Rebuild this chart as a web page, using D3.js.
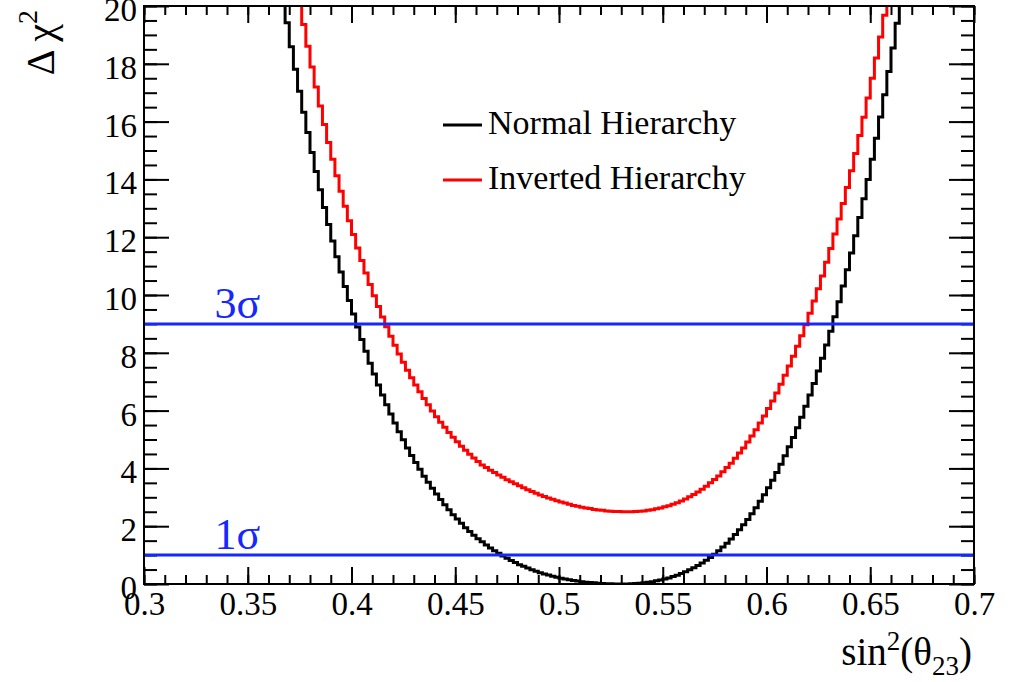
<!DOCTYPE html>
<html>
<head>
<meta charset="utf-8">
<script src="https://cdn.jsdelivr.net/npm/d3@7"></script>
<style>
  body { margin: 0; background: #fff; }
  svg { display: block; }
  text { font-family: "Liberation Serif", "Times New Roman", serif; }
</style>
</head>
<body>
<div id="chart"></div>
<script>
// x axis: sin^2(theta23), bins of 0.002
var binWidth = 0.002;
var xTicks = [0.3, 0.35, 0.4, 0.45, 0.5, 0.55, 0.6, 0.65, 0.7];
var xTickLabels = ["0.3", "0.35", "0.4", "0.45", "0.5", "0.55", "0.6", "0.65", "0.7"];
var yTicks = [0, 2, 4, 6, 8, 10, 12, 14, 16, 18, 20];
var yTickLabels = ["0", "2", "4", "6", "8", "10", "12", "14", "16", "18", "20"];
var sigmaLevels = [9, 1];
var sigmaLabels = ["3\u03c3", "1\u03c3"];
var seriesNames = ["Normal Hierarchy", "Inverted Hierarchy"];

// Normal hierarchy, first bin starts at 0.364
var nhStart = 0.364;
var nhValues = [
  21.13, 20.27, 19.42, 18.59, 17.81, 17.05, 16.32, 15.62, 14.93, 14.27,
  13.64, 13.03, 12.44, 11.87, 11.32, 10.80, 10.29, 9.81, 9.34, 8.89,
  8.46, 8.05, 7.64, 7.27, 6.89, 6.54, 6.20, 5.88, 5.57, 5.27,
  4.99, 4.71, 4.45, 4.20, 3.97, 3.73, 3.52, 3.31, 3.11, 2.92,
  2.74, 2.57, 2.40, 2.25, 2.10, 1.95, 1.82, 1.69, 1.57, 1.46,
  1.35, 1.25, 1.15, 1.06, 0.97, 0.89, 0.81, 0.74, 0.67, 0.61,
  0.55, 0.49, 0.44, 0.39, 0.35, 0.31, 0.27, 0.23, 0.20, 0.17,
  0.15, 0.12, 0.10, 0.08, 0.06, 0.05, 0.04, 0.03, 0.02, 0.01,
  0.01, 0.00, 0.00,
  0.00, 0.00, 0.01, 0.02, 0.03, 0.04, 0.06, 0.08, 0.11, 0.14,
  0.17, 0.21, 0.26, 0.30, 0.36, 0.42, 0.49, 0.56, 0.64, 0.73,
  0.82, 0.92, 1.03, 1.15, 1.28, 1.41, 1.56, 1.71, 1.88, 2.05,
  2.23, 2.43, 2.64, 2.86, 3.09, 3.33, 3.59, 3.86, 4.14, 4.44,
  4.75, 5.07, 5.41, 5.77, 6.15, 6.54, 6.94, 7.37, 7.81, 8.27,
  8.75, 9.25, 9.77, 10.31, 10.87, 11.45, 12.05, 12.68, 13.33, 14.00,
  14.70, 15.42, 16.16, 16.93, 17.73, 18.55, 19.40, 20.28, 21.18
];

// Inverted hierarchy, first bin starts at 0.372
var ihStart = 0.372;
var ihValues = [
  20.94, 20.13, 19.36, 18.61, 17.89, 17.20, 16.54, 15.90, 15.28, 14.70,
  14.13, 13.59, 13.07, 12.57, 12.09, 11.63, 11.19, 10.76, 10.36, 9.97,
  9.60, 9.24, 8.90, 8.57, 8.26, 7.96, 7.67, 7.40, 7.14, 6.89,
  6.65, 6.42, 6.20, 5.99, 5.79, 5.60, 5.42, 5.24, 5.08, 4.92,
  4.77, 4.63, 4.49, 4.36, 4.24, 4.12, 4.03, 3.94, 3.86, 3.77,
  3.69, 3.61, 3.54, 3.47, 3.40, 3.33, 3.26, 3.20, 3.14, 3.08,
  3.03, 2.98, 2.93, 2.88, 2.84, 2.80, 2.76, 2.72, 2.69, 2.66,
  2.63, 2.61, 2.58, 2.56, 2.55, 2.53, 2.52, 2.51, 2.51, 2.50,
  2.50,
  2.50, 2.51, 2.52, 2.53, 2.55, 2.57, 2.60, 2.63, 2.67, 2.71,
  2.76, 2.81, 2.87, 2.94, 3.02, 3.10, 3.18, 3.28, 3.38, 3.50,
  3.62, 3.74, 3.88, 4.03, 4.18, 4.35, 4.53, 4.71, 4.91, 5.12,
  5.34, 5.57, 5.81, 6.07, 6.33, 6.61, 6.91, 7.22, 7.54, 7.88,
  8.23, 8.59, 8.97, 9.37, 9.79, 10.22, 10.66, 11.13, 11.61, 12.11,
  12.63, 13.17, 13.72, 14.30, 14.90, 15.52, 16.15, 16.82, 17.50, 18.20,
  18.93, 19.68, 20.45, 21.25
];

var width = 1013, height = 682;
var frame = {left: 144, right: 974, top: 6, bottom: 584};
var blue = "rgb(20,40,255)";

var svg = d3.select("#chart").append("svg")
    .attr("width", width)
    .attr("height", height);

var x = d3.scaleLinear().domain([0.3, 0.7]).range([frame.left, frame.right]);
var y = d3.scaleLinear().domain([0, 20]).range([frame.bottom, frame.top]);

svg.append("defs").append("clipPath").attr("id", "clip")
  .append("rect")
    .attr("x", frame.left).attr("y", frame.top)
    .attr("width", frame.right - frame.left)
    .attr("height", frame.bottom - frame.top);

function noDomain(g) { g.select(".domain").remove(); g.selectAll(".tick line").attr("stroke-width", 2); }

// minor ticks
var xMinor = x.ticks(40), yMinor = y.ticks(40);
svg.append("g").attr("transform", "translate(0," + frame.bottom + ")")
  .call(d3.axisBottom(x).tickValues(xMinor).tickSize(-9).tickFormat("")).call(noDomain);
svg.append("g").attr("transform", "translate(0," + frame.top + ")")
  .call(d3.axisTop(x).tickValues(xMinor).tickSize(-9).tickFormat("")).call(noDomain);
svg.append("g").attr("transform", "translate(" + frame.left + ",0)")
  .call(d3.axisLeft(y).tickValues(yMinor).tickSize(-13).tickFormat("")).call(noDomain);
svg.append("g").attr("transform", "translate(" + frame.right + ",0)")
  .call(d3.axisRight(y).tickValues(yMinor).tickSize(-13).tickFormat("")).call(noDomain);

// major ticks + labels
svg.append("g").attr("transform", "translate(0," + frame.bottom + ")")
  .call(d3.axisBottom(x).tickValues(xTicks).tickSize(-17).tickPadding(8)
    .tickFormat(function(d, i) { return xTickLabels[i]; }))
  .call(noDomain)
  .selectAll("text").attr("font-size", 33).attr("fill", "#000")
    .style("font-family", "'Liberation Serif', serif");
svg.append("g").attr("transform", "translate(0," + frame.top + ")")
  .call(d3.axisTop(x).tickValues(xTicks).tickSize(-17).tickFormat("")).call(noDomain);
svg.append("g").attr("transform", "translate(" + frame.left + ",0)")
  .call(d3.axisLeft(y).tickValues(yTicks).tickSize(-25).tickPadding(7)
    .tickFormat(function(d, i) { return yTickLabels[i]; }))
  .call(noDomain)
  .selectAll("text").attr("font-size", 33).attr("fill", "#000").attr("dy", "0.44em")
    .style("font-family", "'Liberation Serif', serif");
svg.append("g").attr("transform", "translate(" + frame.right + ",0)")
  .call(d3.axisRight(y).tickValues(yTicks).tickSize(-25).tickFormat("")).call(noDomain);

// histograms
function steps(start, values) {
  var pts = values.map(function(v, i) { return [start + i * binWidth, v]; });
  pts.push([start + values.length * binWidth, values[values.length - 1]]);
  return pts;
}
var line = d3.line()
    .x(function(d) { return x(d[0]); })
    .y(function(d) { return y(d[1]); })
    .curve(d3.curveStepAfter);

var plot = svg.append("g").attr("clip-path", "url(#clip)");
plot.append("path").datum(steps(nhStart, nhValues))
    .attr("d", line).attr("fill", "none").attr("stroke", "#000").attr("stroke-width", 3);
plot.append("path").datum(steps(ihStart, ihValues))
    .attr("d", line).attr("fill", "none").attr("stroke", "#ff0000").attr("stroke-width", 3);

// sigma lines
sigmaLevels.forEach(function(v, i) {
  svg.append("line")
    .attr("x1", frame.left).attr("x2", frame.right)
    .attr("y1", y(v)).attr("y2", y(v))
    .attr("stroke", blue).attr("stroke-width", 3);
  svg.append("text")
    .attr("x", x(0.334)).attr("y", y(v) - 6)
    .attr("font-size", 44).attr("fill", blue)
    .text(sigmaLabels[i]);
});

// frame
svg.append("rect")
    .attr("x", frame.left).attr("y", frame.top)
    .attr("width", frame.right - frame.left)
    .attr("height", frame.bottom - frame.top)
    .attr("fill", "none").attr("stroke", "#000").attr("stroke-width", 2);

// legend
var legColors = ["#000", "#ff0000"];
seriesNames.forEach(function(name, i) {
  var ly = 125 + i * 55;
  svg.append("line").attr("x1", 443).attr("x2", 482).attr("y1", ly).attr("y2", ly)
    .attr("stroke", legColors[i]).attr("stroke-width", 3);
  svg.append("text").attr("x", 488).attr("y", ly + 9)
    .attr("font-size", 34).attr("fill", "#000").text(name);
});

// axis titles
var yt = svg.append("text")
    .attr("transform", "translate(54,10) rotate(-90)")
    .attr("text-anchor", "end").attr("font-size", 40).attr("fill", "#000");
yt.append("tspan").text("\u0394 \u03c7");
yt.append("tspan").attr("font-size", 28).attr("dy", "-0.6em").text("2");

var xt = svg.append("text")
    .attr("x", 972).attr("y", 665)
    .attr("text-anchor", "end").attr("font-size", 39).attr("fill", "#000");
xt.append("tspan").text("sin");
xt.append("tspan").attr("font-size", 27).attr("dy", -15).text("2");
xt.append("tspan").attr("dy", 15).text("(\u03b8");
xt.append("tspan").attr("font-size", 27).attr("dy", 10).text("23");
xt.append("tspan").attr("dy", -10).text(")");
</script>
</body>
</html>
